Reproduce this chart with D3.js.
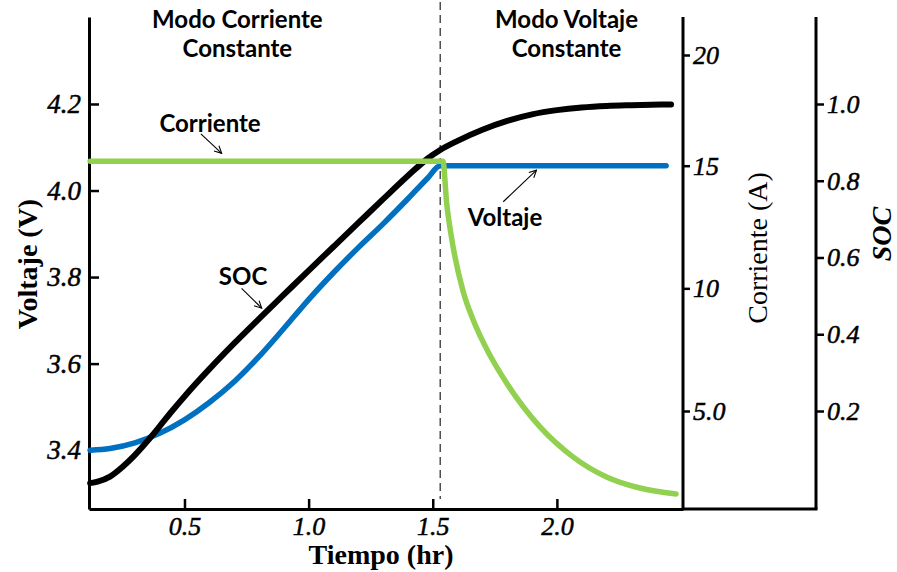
<!DOCTYPE html>
<html>
<head>
<meta charset="utf-8">
<script src="https://cdn.jsdelivr.net/npm/d3@7"></script>
<style>
  body { margin: 0; background: #fff; }
  svg text { fill: #000; }
  .tick text { font-family: "Liberation Serif", serif; font-style: italic; font-size: 26px; stroke: #000; stroke-width: 0.5px; }
  .ejeV .tick text { font-size: 27px; }
  .ttl { font-family: Lato, sans-serif; font-weight: 700; font-size: 24px; }
  .lbl { font-family: "Liberation Serif", serif; font-size: 28px; }
</style>
</head>
<body>
<div id="chart"></div>
<script>
// series
const tiempoSoc = [0.12, 0.15, 0.2, 0.25, 0.3, 0.35, 0.4, 0.45, 0.5, 0.6, 0.7, 0.8, 0.9, 1.0, 1.1, 1.2, 1.3, 1.4, 1.48, 1.53, 1.6, 1.7, 1.8, 1.9, 2.0, 2.1, 2.2, 2.3, 2.46];
const soc = [0.012, 0.016, 0.029, 0.054, 0.085, 0.121, 0.160, 0.200, 0.238, 0.309, 0.376, 0.440, 0.503, 0.566, 0.628, 0.690, 0.752, 0.813, 0.858, 0.880, 0.904, 0.933, 0.956, 0.973, 0.984, 0.991, 0.995, 0.997, 0.999];

const tiempoVolt = [0.12, 0.2, 0.3, 0.4, 0.5, 0.6, 0.7, 0.8, 0.9, 1.0, 1.1, 1.2, 1.3, 1.4, 1.48, 1.53, 2.44];
const voltaje = [3.400, 3.404, 3.417, 3.439, 3.470, 3.510, 3.558, 3.616, 3.681, 3.748, 3.810, 3.868, 3.923, 3.981, 4.029, 4.057, 4.057];

const tiempoCorr = [0.12, 1.541, 1.556, 1.576, 1.623, 1.663, 1.730, 1.798, 1.932, 2.066, 2.200, 2.334, 2.48];
const corriente = [15.2, 15.2, 13.48, 12.05, 9.85, 8.71, 7.28, 6.13, 4.35, 3.12, 2.31, 1.86, 1.62];

// tick labels
const ticksTiempo = [0.5, 1.0, 1.5, 2.0];
const ticksVolt = [3.4, 3.6, 3.8, 4.0, 4.2];
const ticksCorr = [5, 10, 15, 20];
const ticksSoc = [0.2, 0.4, 0.6, 0.8, 1.0];

const cambioModo = 1.53; // start of constant voltage

const W = 897, H = 572;
const margin = {top: 17, left: 89};
const w = 594, h = 492;
const socOffset = 133; // second right axis

const svg = d3.select('#chart').append('svg').attr('width', W).attr('height', H);
const g = svg.append('g').attr('transform', 'translate(' + margin.left + ',' + margin.top + ')');

const x = d3.scaleLinear().domain([0.1154, 2.508]).range([0, w]);
const yV = d3.scaleLinear().domain([3.264, 4.401]).range([h, 0]);
const ySoc = d3.scaleLinear().domain([-0.0554, 1.2267]).range([h, 0]);
// current axis in the source is not evenly spaced between 15 and 20
const yCorr = d3.scaleLinear().domain([5, 15, 20]).range([394, 148.7, 38]);

//axes
function styleAxis(sel) {
    sel.select('.domain').attr('stroke', '#000').attr('stroke-width', 3);
    sel.selectAll('.tick line').attr('stroke', '#000').attr('stroke-width', 2.5);
    return sel;
}

g.append('g')
    .attr('class', 'ejeV')
    .call(d3.axisLeft(yV).tickValues(ticksVolt).tickFormat(d3.format('.1f'))
        .tickSizeInner(-10).tickSizeOuter(0).tickPadding(8))
    .call(styleAxis);

g.append('g')
    .attr('transform', 'translate(0,' + h + ')')
    .call(d3.axisBottom(x).tickValues(ticksTiempo).tickFormat(d3.format('.1f'))
        .tickSizeInner(-10).tickSizeOuter(0).tickPadding(8))
    .call(styleAxis);

g.append('g')
    .attr('transform', 'translate(' + w + ',0)')
    .call(d3.axisRight(yCorr).tickValues(ticksCorr)
        .tickFormat(d => d === 5 ? '5.0' : d)
        .tickSizeInner(7).tickSizeOuter(0).tickPadding(3))
    .call(styleAxis)
    .select('.domain').attr('d', 'M0,0V' + h);

g.append('g')
    .attr('transform', 'translate(' + (w + socOffset) + ',0)')
    .call(d3.axisRight(ySoc).tickValues(ticksSoc).tickFormat(d3.format('.1f'))
        .tickSizeInner(8).tickSizeOuter(0).tickPadding(3))
    .call(styleAxis)
    .select('.domain').attr('d', 'M0,0V' + h);

// bottom line runs on to the SOC axis
g.append('line')
    .attr('x1', w).attr('x2', w + socOffset + 1.5)
    .attr('y1', h).attr('y2', h)
    .attr('stroke', '#000').attr('stroke-width', 3);

// mode change marker
g.append('line')
    .attr('x1', x(cambioModo)).attr('x2', x(cambioModo))
    .attr('y1', -15).attr('y2', h - 10)
    .attr('stroke', '#222').attr('stroke-width', 1.2)
    .attr('stroke-dasharray', '8,5');

//lines
function drawLine(ts, vs, scale, color, width) {
    const line = d3.line()
        .x((d, i) => x(ts[i]))
        .y(d => scale(d))
        .curve(d3.curveMonotoneX);
    g.append('path')
        .datum(vs)
        .attr('d', line)
        .attr('fill', 'none')
        .attr('stroke', color)
        .attr('stroke-width', width)
        .attr('stroke-linecap', 'round')
        .attr('stroke-linejoin', 'round');
}

drawLine(tiempoVolt, voltaje, yV, '#0070C0', 5.5);
drawLine(tiempoSoc, soc, ySoc, '#000000', 6);
drawLine(tiempoCorr, corriente, yCorr, '#92D050', 5.5);

// annotations (time, voltage)
const notas = [
    {text: 'Corriente', t: 0.603, v: 4.136, from: [0.566, 4.131], to: [0.650, 4.086]},
    {text: 'SOC', t: 0.736, v: 3.782, from: [0.730, 3.774], to: [0.811, 3.728]},
    {text: 'Voltaje', t: 1.791, v: 3.918, from: [1.784, 3.974], to: [1.918, 4.047]}
];

svg.append('defs').append('marker')
    .attr('id', 'flecha')
    .attr('viewBox', '0 0 10 10')
    .attr('refX', 9).attr('refY', 5)
    .attr('markerWidth', 9).attr('markerHeight', 9)
    .attr('markerUnits', 'userSpaceOnUse')
    .attr('orient', 'auto')
    .append('path')
    .attr('d', 'M1,1L9,5L1,9')
    .attr('fill', 'none').attr('stroke', '#000').attr('stroke-width', 1.2);

notas.forEach(function (n) {
    g.append('text')
        .attr('class', 'ttl')
        .attr('x', x(n.t)).attr('y', yV(n.v))
        .attr('text-anchor', 'middle')
        .text(n.text);
    g.append('line')
        .attr('x1', x(n.from[0])).attr('y1', yV(n.from[1]))
        .attr('x2', x(n.to[0])).attr('y2', yV(n.to[1]))
        .attr('stroke', '#000').attr('stroke-width', 1.1)
        .attr('marker-end', 'url(#flecha)');
});

// mode titles
const modos = [
    {lines: ['Modo Corriente', 'Constante'], t: 0.713},
    {lines: ['Modo Voltaje', 'Constante'], t: 2.039}
];
modos.forEach(function (m) {
    m.lines.forEach(function (s, i) {
        svg.append('text')
            .attr('class', 'ttl')
            .attr('x', margin.left + x(m.t)).attr('y', 28 + i * 29)
            .attr('text-anchor', 'middle')
            .text(s);
    });
});

// axis titles
svg.append('text').attr('class', 'lbl').attr('font-weight', 700)
    .attr('transform', 'translate(37,264) rotate(-90)')
    .attr('text-anchor', 'middle').text('Voltaje (V)');

svg.append('text').attr('class', 'lbl').attr('font-weight', 700)
    .attr('x', 381).attr('y', 564)
    .attr('text-anchor', 'middle').text('Tiempo (hr)');

svg.append('text').attr('class', 'lbl').attr('font-size', 30)
    .attr('transform', 'translate(767,248) rotate(-90)')
    .attr('text-anchor', 'middle').text('Corriente (A)');

svg.append('text').attr('class', 'lbl').attr('font-weight', 700).attr('font-style', 'italic')
    .attr('transform', 'translate(891,234) rotate(-90)')
    .attr('text-anchor', 'middle').text('SOC');
</script>
</body>
</html>
